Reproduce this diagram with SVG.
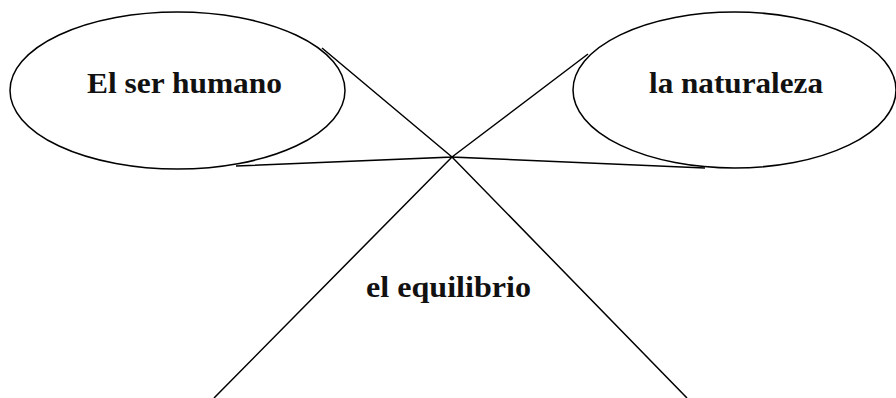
<svg xmlns="http://www.w3.org/2000/svg" width="896" height="398" viewBox="0 0 896 398">
<style>
.shape{fill:#fff;stroke:#000;stroke-width:1.5}
.ln{fill:none;stroke:#000;stroke-width:1.5}
.lbl{font-family:"Liberation Serif","DejaVu Serif",serif;font-weight:bold;font-size:30px;fill:#111;text-anchor:middle}
</style>
<rect width="896" height="398" fill="#fff"/>
<g id="connectors">
<polyline class="ln" points="322,48 452,157 236,166"/>
<polyline class="ln" points="588,54 452,157 705,168"/>
<polyline class="ln" points="214,398 452,157 687,398"/>
</g>
<g id="node-ser-humano">
<ellipse class="shape" cx="177.5" cy="90.5" rx="167.5" ry="78.5"/>
<text class="lbl" x="184.5" y="93" textLength="195" lengthAdjust="spacingAndGlyphs">El ser humano</text>
</g>
<g id="node-naturaleza">
<ellipse class="shape" cx="734.5" cy="90" rx="161.5" ry="78"/>
<text class="lbl" x="736" y="93" textLength="174" lengthAdjust="spacingAndGlyphs">la naturaleza</text>
</g>
<g id="node-equilibrio">
<text class="lbl" x="448.5" y="297" textLength="165" lengthAdjust="spacingAndGlyphs">el equilibrio</text>
</g>
</svg>
